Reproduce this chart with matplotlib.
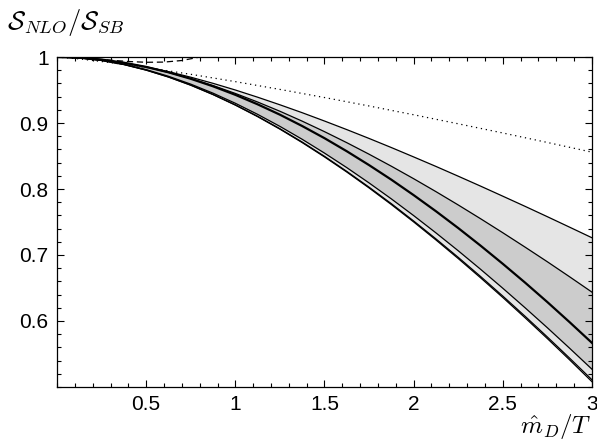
import numpy as np
import matplotlib
matplotlib.use("Agg")
import matplotlib.pyplot as plt
from matplotlib.ticker import MultipleLocator, FixedLocator

# x grid (m_D/T)
x = [0.0, 0.125, 0.25, 0.375, 0.5, 0.625, 0.75, 0.875, 1.0, 1.125, 1.25, 1.375, 1.5,
     1.625, 1.75, 1.875, 2.0, 2.125, 2.25, 2.375, 2.5, 2.625, 2.75, 2.875, 3.0]

# band edges / curves
top_light = [1.0, 0.9989, 0.9959, 0.9912, 0.9851, 0.9778, 0.9694, 0.9601, 0.9500, 0.9391, 0.9276, 0.9156, 0.9030,
             0.8900, 0.8766, 0.8628, 0.8486, 0.8342, 0.8194, 0.8044, 0.7891, 0.7737, 0.7580, 0.7421, 0.7261]
top_dark = [1.0, 0.9990, 0.9959, 0.9911, 0.9847, 0.9767, 0.9673, 0.9567, 0.9448, 0.9318, 0.9178, 0.9028, 0.8869,
            0.8702, 0.8527, 0.8345, 0.8156, 0.7960, 0.7758, 0.7550, 0.7337, 0.7119, 0.6897, 0.6669, 0.6437]
central = [1.0, 0.9990, 0.9961, 0.9914, 0.9850, 0.9768, 0.9670, 0.9556, 0.9427, 0.9283, 0.9126, 0.8954, 0.8770,
           0.8572, 0.8362, 0.8141, 0.7907, 0.7663, 0.7408, 0.7142, 0.6866, 0.6581, 0.6286, 0.5981, 0.5668]
bottom_dark = [1.0, 0.9987, 0.9950, 0.9890, 0.9809, 0.9708, 0.9589, 0.9452, 0.9299, 0.9131, 0.8949, 0.8753, 0.8544,
               0.8324, 0.8092, 0.7850, 0.7597, 0.7335, 0.7064, 0.6784, 0.6496, 0.6200, 0.5897, 0.5586, 0.5269]
bottom_light = [1.0, 0.9987, 0.9948, 0.9886, 0.9802, 0.9698, 0.9575, 0.9433, 0.9275, 0.9102, 0.8913, 0.8711, 0.8495,
                0.8267, 0.8027, 0.7777, 0.7515, 0.7244, 0.6964, 0.6675, 0.6377, 0.6071, 0.5757, 0.5436, 0.5109]
bottom_extra = [1.0, 0.9987, 0.9948, 0.9886, 0.9801, 0.9696, 0.9572, 0.9430, 0.9271, 0.9096, 0.8907, 0.8703, 0.8486,
                0.8257, 0.8016, 0.7764, 0.7501, 0.7228, 0.6946, 0.6655, 0.6356, 0.6048, 0.5733, 0.5410, 0.5080]

x_dot = [0.0, 0.125, 0.25, 0.5, 0.75, 1.0, 1.25, 1.5, 1.75, 2.0, 2.25, 2.5, 2.75, 3.0]
dotted = [1.0, 0.9971, 0.9932, 0.9841, 0.9738, 0.9627, 0.9509, 0.9386, 0.9258, 0.9125, 0.8988, 0.8849, 0.8705, 0.8558]

x_dash = [0.0, 0.1, 0.2, 0.3, 0.4, 0.5, 0.6, 0.7, 0.8, 0.9]
dashed = [1.0, 0.99925, 0.99745, 0.9952, 0.9932, 0.992, 0.9923, 0.9947, 0.9999, 1.0084]

x_ticks = [0.5, 1, 1.5, 2, 2.5, 3]
x_tick_labels = ["0.5", "1", "1.5", "2", "2.5", "3"]
y_ticks = [0.6, 0.7, 0.8, 0.9, 1.0]
y_tick_labels = ["0.6", "0.7", "0.8", "0.9", "1"]

plt.rcParams["font.family"] = ["Liberation Sans", "DejaVu Sans"]
plt.rcParams["mathtext.fontset"] = "cm"

fig = plt.figure(figsize=(5.97, 4.44), dpi=100)
ax = fig.add_axes([0.0955, 0.1284, 0.8961, 0.7432])

ax.fill_between(x, bottom_light, top_light, color="#e5e5e5", lw=0)
ax.fill_between(x, bottom_dark, top_dark, color="#cccccc", lw=0)

for yv in (top_light, top_dark, bottom_dark, bottom_light, bottom_extra):
    ax.plot(x, yv, color="black", lw=0.9)
ax.plot(x, central, color="black", lw=1.6)
ax.plot(x_dot, dotted, color="black", lw=0.9, ls=(0, (1, 3)))
ax.plot(x_dash, dashed, color="black", lw=0.9, ls=(0, (5, 3)))

ax.set_xlim(0, 3)
ax.set_ylim(0.5, 1.0)

ax.xaxis.set_major_locator(FixedLocator(x_ticks))
ax.set_xticklabels(x_tick_labels)
ax.xaxis.set_minor_locator(MultipleLocator(0.1))
ax.yaxis.set_major_locator(FixedLocator(y_ticks))
ax.set_yticklabels(y_tick_labels)
ax.yaxis.set_minor_locator(MultipleLocator(0.02))

ax.tick_params(which="both", direction="in", top=True, right=True, width=0.8, labelsize=15)
ax.tick_params(which="major", length=5, pad=6)
ax.tick_params(which="minor", length=3)
for s in ax.spines.values():
    s.set_linewidth(0.9)

fig.text(0.012, 0.95, r"$\mathcal{S}_{NLO}/\mathcal{S}_{SB}$", fontsize=19, va="center", ha="left")
fig.text(0.99, 0.006, r"$\hat{m}_D/T$", fontsize=18, va="bottom", ha="right")

fig.savefig("out.png", dpi=100)
